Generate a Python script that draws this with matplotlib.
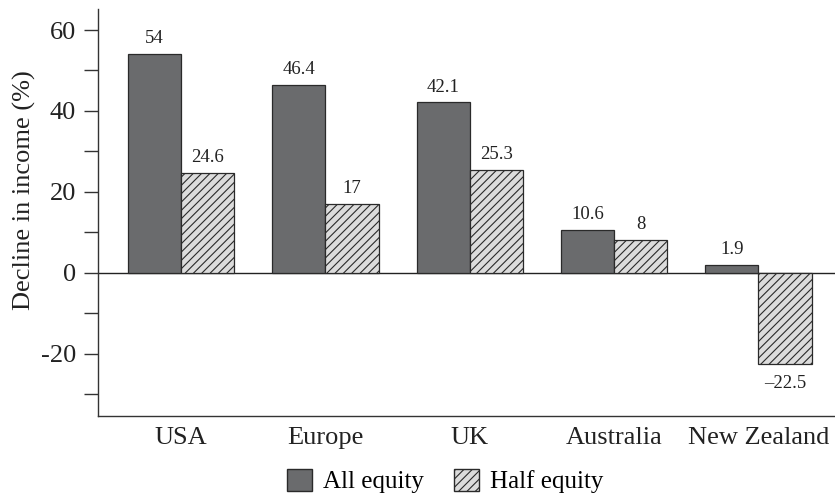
import matplotlib
matplotlib.use("Agg")
import matplotlib.pyplot as plt
import numpy as np
from matplotlib.patches import Patch

plt.rcParams['font.family'] = ['Liberation Serif', 'DejaVu Serif']
plt.rcParams['hatch.linewidth'] = 0.8

categories = ["USA", "Europe", "UK", "Australia", "New Zealand"]
all_equity = [54, 46.4, 42.1, 10.6, 1.9]
half_equity = [24.6, 17, 25.3, 8, -22.5]
all_labels = ["54", "46.4", "42.1", "10.6", "1.9"]
half_labels = ["24.6", "17", "25.3", "8", "\u201322.5"]
yticks = [-20, 0, 20, 40, 60]
yminor = [-30, -10, 10, 30, 50]

fig = plt.figure(figsize=(8.35, 4.97), dpi=100)
ax = fig.add_axes([98/835, 81/497, 1 - 98/835, 407/497])

x = np.arange(len(categories))
w = 0.368
dark = "#6a6b6d"
light = "#dcdcdc"
edge = "#2a2a2a"

ax.bar(x - w/2, all_equity, w, color=dark, edgecolor=edge, linewidth=0.9)
ax.bar(x + w/2, half_equity, w, color=light, edgecolor=edge, linewidth=0.9, hatch='////')

for xi, v, lab in zip(x - w/2, all_equity, all_labels):
    ax.annotate(lab, (xi, v), xytext=(0, 5), textcoords='offset points',
                ha='center', va='bottom', fontsize=13.5, color='#222222')
for xi, v, lab in zip(x + w/2, half_equity, half_labels):
    if v >= 0:
        ax.annotate(lab, (xi, v), xytext=(0, 5), textcoords='offset points',
                    ha='center', va='bottom', fontsize=13.5, color='#222222')
    else:
        ax.annotate(lab, (xi, v), xytext=(0, -8), textcoords='offset points',
                    ha='center', va='top', fontsize=13.5, color='#222222')

ax.axhline(0, color='#222222', linewidth=1.0, zorder=0.5)
ax.set_xlim(-0.576, 4.53)
ax.set_ylim(-35.4, 65.2)
ax.set_yticks(yticks)
ax.set_yticks(yminor, minor=True)
ax.set_yticklabels([str(t) for t in yticks], fontsize=19, color='#222222')
ax.set_xticks(x)
ax.set_xticklabels(categories, fontsize=19, color='#222222')
ax.tick_params(axis='y', which='both', direction='out', length=10, width=1.0, color='#333333', pad=6)
ax.tick_params(axis='x', length=0, pad=8)
ax.spines['top'].set_visible(False)
ax.spines['right'].set_visible(False)
for s in ['left', 'bottom']:
    ax.spines[s].set_color('#333333')
    ax.spines[s].set_linewidth(1.0)
ax.set_ylabel("Decline in income (%)", fontsize=19, color='#222222')
ax.yaxis.set_label_coords(-0.084, 0.555)

handles = [Patch(facecolor=dark, edgecolor=edge, label="All equity"),
           Patch(facecolor=light, edgecolor=edge, hatch='////', label="Half equity")]
fig.legend(handles=handles, loc='center', bbox_to_anchor=(445/835, 16/497), ncol=2,
           frameon=False, fontsize=18, handlelength=1.0, handleheight=1.0,
           handletextpad=0.45, columnspacing=1.2, borderpad=0)

fig.savefig("out.png", dpi=100)
